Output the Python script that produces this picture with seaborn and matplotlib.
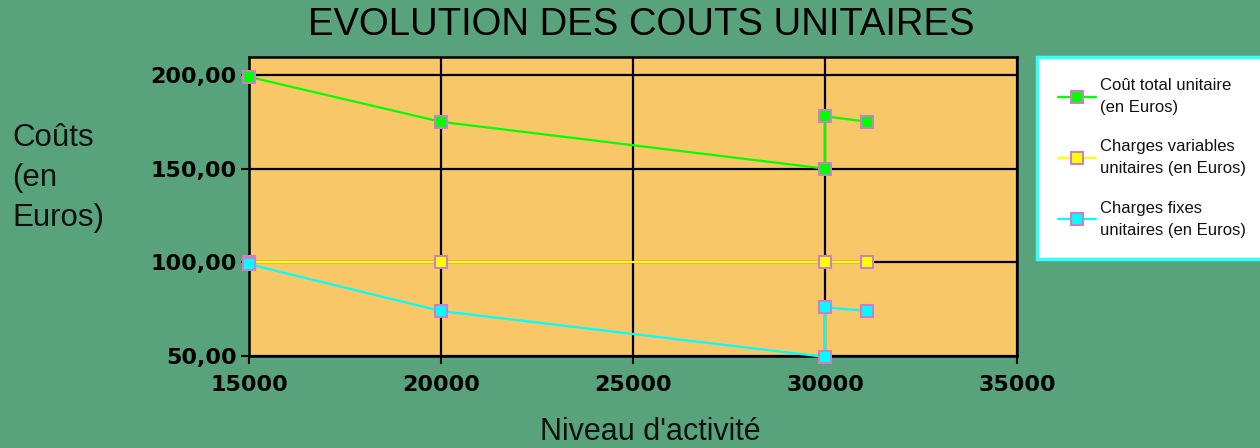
import matplotlib
matplotlib.use("Agg")
import matplotlib.pyplot as plt
import seaborn as sns
from matplotlib.ticker import FuncFormatter

# === Data ===
activite = [15000, 20000, 30000, 30000, 31100]
cout_total = [199, 175, 150, 178, 175]
charges_variables = [100, 100, 100, 100, 100]
charges_fixes = [99, 74, 49.5, 76, 74]

series_labels = [
    "Coût total unitaire\n(en Euros)",
    "Charges variables\nunitaires (en Euros)",
    "Charges fixes\nunitaires (en Euros)",
]
x_ticks = [15000, 20000, 25000, 30000, 35000]
y_ticks = [50, 100, 150, 200]

# === Style ===
BG = "#58a37c"
PLOT_BG = "#f8c868"
EDGE = "#cc80c8"
colors = ["#00ff00", "#ffff00", "#00ffff"]

sns.set_theme(style="white")
plt.rcParams["font.family"] = ["Liberation Sans", "DejaVu Sans"]

fig = plt.figure(figsize=(12.6, 4.48), dpi=100, facecolor=BG)
ax = fig.add_axes([249 / 1260, 1 - 356 / 448, 768 / 1260, 299 / 448])
ax.set_facecolor(PLOT_BG)

for values, label, color in zip([cout_total, charges_variables, charges_fixes], series_labels, colors):
    sns.lineplot(
        x=activite, y=values, ax=ax, sort=False, estimator=None,
        color=color, linewidth=1.6, marker="s", markersize=9,
        markerfacecolor=color, markeredgecolor=EDGE, markeredgewidth=1.5,
        label=label, clip_on=False, zorder=3,
    )

ax.set_xlim(15000, 35000)
ax.set_ylim(50, 209.6)
ax.set_xticks(x_ticks)
ax.set_yticks(y_ticks)
ax.yaxis.set_major_formatter(FuncFormatter(lambda v, p: f"{v:.2f}".replace(".", ",")))
ax.grid(True, color="black", linewidth=1.6)
ax.set_axisbelow(True)
for sp in ax.spines.values():
    sp.set_color("black")
    sp.set_linewidth(1.8)

ax.tick_params(axis="both", direction="out", length=6, width=1.5, color="black",
               bottom=True, left=True, labelsize=16)
ax.tick_params(axis="x", pad=8)
ax.tick_params(axis="y", pad=3)
for t in ax.get_xticklabels() + ax.get_yticklabels():
    t.set_fontfamily(["DejaVu Sans"])
    t.set_fontweight("bold")
    t.set_color("black")
ax.set_xlabel("")
ax.set_ylabel("")

# === Texts ===
fig.text(641 / 1260, 1 - 25 / 448, "EVOLUTION DES COUTS UNITAIRES",
         ha="center", va="center", fontsize=27.5, color="black")
fig.text(12 / 1260, 1 - 178 / 448, "Coûts\n(en\nEuros)", ha="left", va="center",
         fontsize=22.5, linespacing=1.45, color="#111111")
fig.text(650 / 1260, 1 - 432 / 448, "Niveau d'activité", ha="center", va="center",
         fontsize=22, color="#111111")

# === Legend ===
handles, labels = ax.get_legend_handles_labels()
leg = ax.legend(handles, labels, loc="upper left",
                bbox_to_anchor=(1037 / 1260, 1 - 57 / 448), bbox_transform=fig.transFigure,
                frameon=True, fancybox=False, facecolor="white", edgecolor="#33ffff",
                framealpha=1, fontsize=12, handlelength=2.3, labelspacing=1.45,
                borderpad=1.25, handletextpad=0.2, borderaxespad=0)
leg.get_frame().set_linewidth(2.5)
for t in leg.get_texts():
    t.set_color("#111111")
    t.set_linespacing(1.6)

fig.savefig("out.png", dpi=100, facecolor=BG)
plt.close(fig)
